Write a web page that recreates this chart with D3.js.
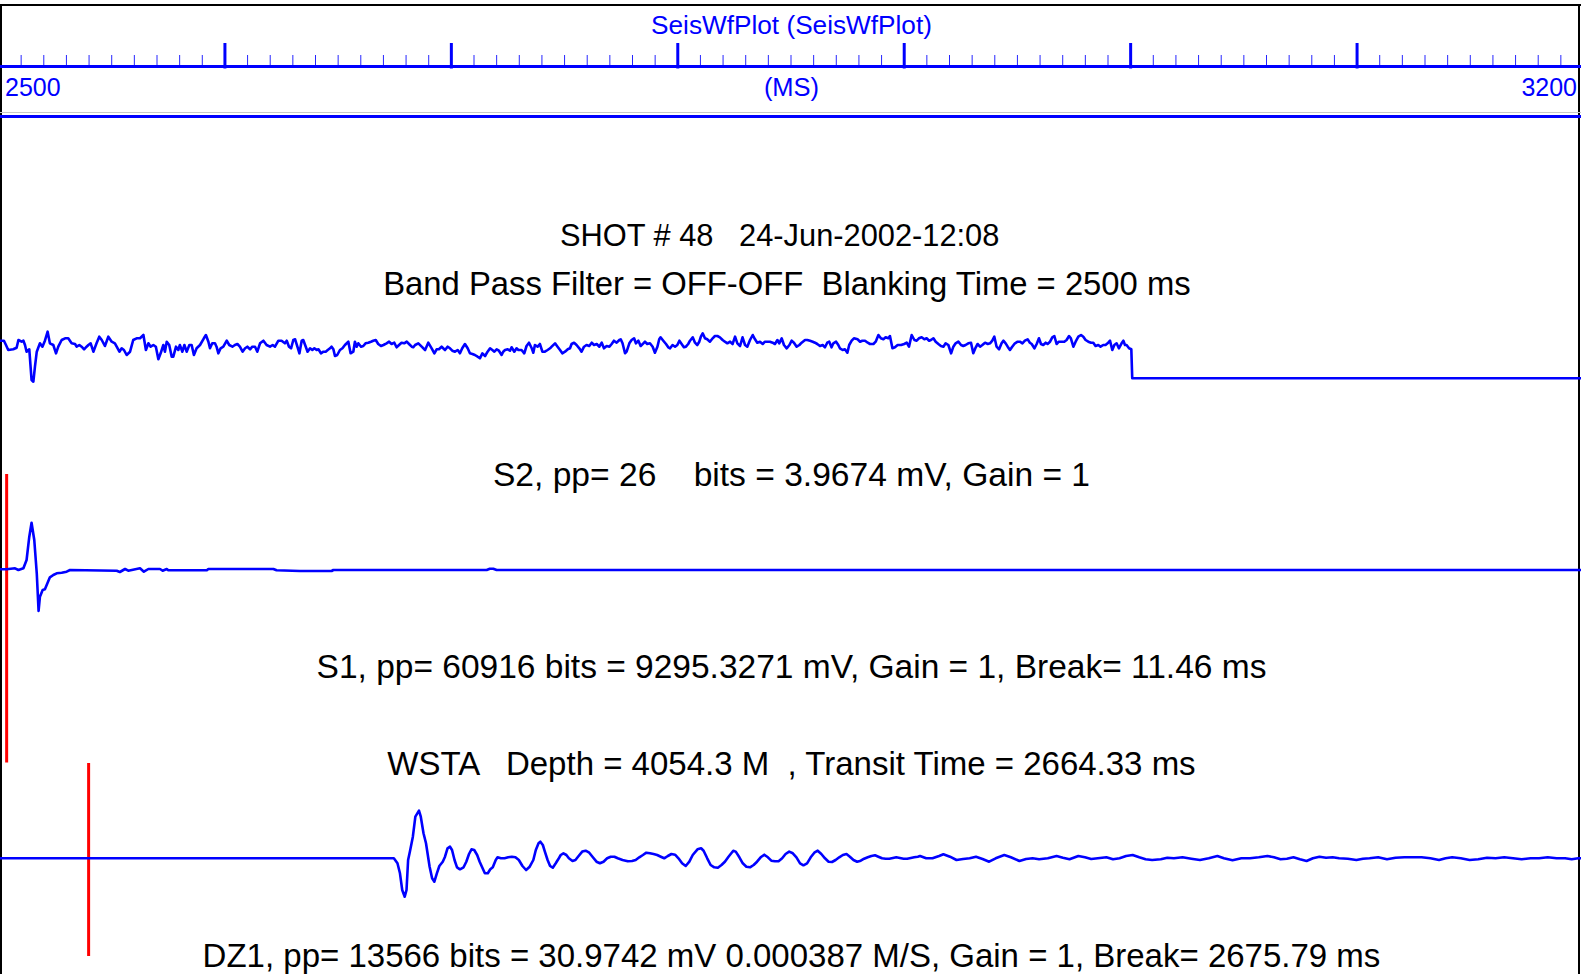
<!DOCTYPE html>
<html><head><meta charset="utf-8">
<script src="https://cdn.jsdelivr.net/npm/d3@7"></script>
<style>
html,body{margin:0;padding:0;background:#fff;overflow:hidden}
text{font-family:"Liberation Sans",Arial,Helvetica,sans-serif;white-space:pre}
</style></head><body>
<script>
// ---------- data ----------
const timeDomain = [2500, 3200];          // ms
const majorTickStep = 100, minorTickStep = 10;
const axisEndLabels = ["2500", "3200"];
const axisUnit = "(MS)";
const plotTitle = "SeisWfPlot (SeisWfPlot)";
const headerLines = ["SHOT # 48   24-Jun-2002-12:08   ", "Band Pass Filter = OFF-OFF  Blanking Time = 2500 ms "];
const traceLabels = [
  "S2, pp= 26    bits = 3.9674 mV, Gain = 1",
  "S1, pp= 60916 bits = 9295.3271 mV, Gain = 1, Break= 11.46 ms",
  "WSTA   Depth = 4054.3 M  , Transit Time = 2664.33 ms",
  "DZ1, pp= 13566 bits = 30.9742 mV 0.000387 M/S, Gain = 1, Break= 2675.79 ms"
];
// traces: [ms after 2500, amplitude]
const s2Trace = [[0,4.3],[0.7,4.3],[2.4,4.3],[3.3,0],[4.3,-5],[6.5,-4.3],[8,-2.7],[8.8,5],[10.2,3.3],[11,4.3],[11.7,0],[12.4,-6.7],[13.6,-4.3],[14.6,-35],[15.4,-36.7],[16.1,-21.7],[16.9,-6.7],[18.3,1.7],[19.4,-1.7],[20.5,4.3],[21.7,13.3],[22.7,1.7],[24.2,0],[25.4,-8.3],[26.4,-1.7],[27.9,5],[29.4,6.7],[30.8,6.7],[32.3,1.7],[33.8,1],[34.5,-1.7],[35.7,0],[36.7,-1.7],[37.8,-4.3],[38.9,-1.7],[39.7,0],[40.7,1.7],[41.9,-6.7],[43.3,1.7],[44.5,8.3],[45.6,5],[47,-1],[48.5,8.3],[50,3.3],[51.4,1.7],[52.2,-1.7],[53.4,-6.7],[54.4,-3.3],[55.4,-5],[56.6,-10],[58.1,-6.7],[59.5,5],[61,6.7],[62.5,6.7],[64,10],[65.1,-5],[66.2,1.7],[67.2,-1.7],[68.4,0],[69.5,-1.7],[70.6,-14.3],[71.6,-8.3],[72.8,0],[73.5,-6.7],[74.3,3.3],[75.4,0],[76.5,-11.7],[77.2,-11.7],[78.4,-1.7],[79.4,-5],[80.1,0],[81.2,-6.7],[82.1,0],[83.1,-6.7],[84.3,0],[85.3,0],[86.3,-10],[87.5,-3.3],[89,0],[90.7,6.7],[91.6,10],[92.7,3.3],[93.4,-3.3],[94.4,1.7],[95.6,1.7],[96.3,-1.7],[97.1,-8.3],[98.1,-3.3],[99.3,-1.7],[100.8,4.3],[101.9,0],[103.3,-1.7],[104.4,0],[105.5,1],[106.6,-1.7],[107.8,-6.7],[108.9,-3.3],[109.9,-1.7],[111.1,-4.3],[112.1,-1.7],[113.3,-1.7],[114.3,-6.7],[115.5,1.7],[117,4.3],[118.4,0],[119.9,-1.7],[121.1,0],[122.1,-1.7],[123.6,4.3],[125,4.3],[126.5,1.7],[127.3,4.3],[128.3,-1.7],[129.2,-3.3],[130.2,5],[131,5.7],[132,-1.7],[132.9,-8.3],[133.9,4.3],[134.6,5],[135.7,-1.7],[136.5,-6.7],[137.6,-3.3],[138.6,-5],[139.5,-3.3],[140.5,-5],[141.3,-4.3],[142.4,-8.3],[143.5,-6.7],[144.5,-6.7],[145.4,-5],[146.4,-3.3],[147.1,-1.7],[147.9,-4.3],[148.6,-11],[149.6,-10],[150.8,-5],[151.9,-3.3],[153,0],[154.5,3.3],[155.5,-8.3],[156.7,-6.7],[157.4,3.3],[158.2,-1.7],[158.9,1.7],[160.1,-1.7],[161.1,-1],[162.1,1.7],[163.3,2.3],[164.5,3.3],[165.5,4.3],[166.6,5],[167.7,1],[168.9,-1],[170,0],[171.4,1.7],[172.5,3.3],[173.6,1],[174.8,2.3],[175.8,-2.3],[176.9,0],[178,2.3],[179.2,1.7],[180.3,3.3],[181.3,1],[182.5,-1.7],[183.2,-2.3],[184,0],[185.4,1.7],[186.9,-1.7],[188.4,-5],[189.8,2.3],[191.3,-3.3],[192.5,-8.3],[193.5,-4.3],[194.5,-4.3],[195.7,-1.7],[197.2,-5],[198.4,-1.7],[199.4,-3.3],[200.4,-5.7],[201.6,-6.7],[202.8,-5],[203.8,-8.3],[204.8,-3.3],[206,1],[207.2,-3.3],[208.2,-8.3],[209.3,-9],[210.4,-10],[211.6,-11.7],[212.6,-13.3],[213.7,-8.3],[214.9,-11],[216,-6.7],[217.1,-3.3],[218.1,-5],[219,-6.7],[220,-4.3],[221,-5.7],[222.2,-10],[222.9,-6.7],[223.7,-5],[224.9,-4.3],[225.9,-5.7],[226.6,-2.3],[227.8,-6.7],[228.8,-3.3],[229.6,-5],[231,-5],[232.2,-8.3],[233.2,-1],[234.3,2.3],[235.5,-3.3],[236.2,-7.7],[236.9,0],[238.1,-1.7],[239.1,1],[240.2,-6.7],[241.3,-6.7],[242.5,-5],[243.6,-3.3],[244.3,-1.7],[245.8,1.7],[246.9,-1.7],[248,-5],[249,-8.3],[250.2,-6.7],[251.4,-4.3],[252.4,-3.3],[253.1,1],[254.2,2.3],[255.3,0],[256.5,-3.3],[257.5,-6.7],[258.6,-1.7],[259.7,0],[260.9,-1],[262,2.3],[263,0],[264.2,1],[265.3,-1.7],[266.4,2.3],[267.4,-3.3],[268.6,-1],[269.8,-1.7],[270.8,1],[271.8,4.3],[273,2.3],[274.2,5],[274.8,5.7],[275.6,1.7],[276.7,-8.3],[277.4,-6.7],[278.6,1.7],[279.6,5],[280.7,6.7],[281.5,1.7],[282.6,4.3],[283.6,-1],[284.8,1.7],[285.5,3.3],[286.5,1],[287.7,1.7],[288.9,-1.7],[289.9,-7.7],[291,-1.7],[291.8,5.7],[292.4,7.7],[293.6,4.3],[294.8,1],[295.8,-2.3],[296.6,-3.3],[297.7,0],[298.8,-1.7],[299.8,0],[300.7,4.3],[301.7,1],[302.7,-2.3],[303.6,-1.7],[304.6,1],[305.4,4.3],[306.6,7.7],[307.6,2.3],[308.6,0],[309.5,3.3],[310.2,8.3],[311,11.7],[312,6.7],[313,5.7],[314.2,3.3],[315.4,6.7],[316.4,9],[317.5,9],[318.6,7.7],[319.8,5],[320.8,3.3],[321.9,1.7],[323.1,3.3],[324.2,1],[325.3,8.3],[326.3,1.7],[327.5,-1],[328.6,7.7],[329.7,0],[330.7,-1.7],[331.9,5],[333.1,10],[334.1,5.7],[335.1,2.3],[336.3,3.3],[337.5,1],[338.5,3.3],[339.5,3.3],[340.7,3.3],[341.9,2.3],[342.9,1],[344,5],[344.8,1.7],[345.9,6.7],[346.9,0],[348.1,-3.3],[349.3,0],[350.3,4.3],[351.3,2.3],[352.5,-1.7],[353.7,0],[354.7,2.3],[356.2,5],[357.2,5],[358.4,4.3],[359.6,3.3],[360.6,2.3],[361.6,1],[362.8,-1],[364,0],[365,-2.3],[366,2.3],[366.9,3.3],[367.9,-2.3],[368.7,1.7],[369.9,3.3],[370.9,0],[371.6,-3.3],[372.8,-5],[373.8,-4.3],[374.9,-7.7],[375.7,0],[376.8,4.3],[377.8,6.7],[379.4,5.7],[380.5,3.3],[381.5,4.3],[382.7,4.3],[383.9,2.3],[384.9,1],[386.4,1],[387.4,3.3],[388.6,10],[389.7,6.7],[390.8,5.7],[391.8,7.7],[393,6.7],[393.7,9],[394.8,-3.3],[395.9,-2.3],[397.1,0],[398.6,0],[400,1],[401.1,2.3],[402.1,-1.7],[403.3,10],[404.5,5],[405.5,4.3],[406.5,6.7],[407.7,7.7],[408.9,5.7],[409.9,6.7],[411,4.3],[411.8,5],[412.9,6.7],[413.9,3.3],[415.1,1],[416.2,-1],[417.3,-1.7],[418.3,1.7],[419.5,0],[420.7,-8.3],[421.7,-1.7],[422.7,1.7],[423.9,3.3],[425.1,0],[426.1,-1],[427.1,0],[428.3,1.7],[429.5,2.3],[430.5,-8.3],[431.6,-2.3],[432.4,1],[433.5,-1.7],[434.5,0],[435.7,2.3],[436.9,1],[437.9,1.7],[438.9,4.3],[439.8,8.3],[440.8,-1.7],[441.9,-4.3],[443,1.7],[443.8,4.3],[444.8,1.7],[445.7,-1.7],[446.7,-5],[447.7,-1.7],[448.9,1.7],[450.1,3.3],[451.1,3.3],[452.2,1.7],[453.3,4.3],[454.5,5.7],[455.5,2.3],[456.3,1],[457.5,-3.3],[458.5,1],[459.5,6.7],[460.4,1],[461.4,0],[462.5,2.3],[463.3,1],[464.4,3.3],[465.4,7.7],[466.3,9],[467.3,1],[468.3,3.3],[469.5,3.3],[470.7,3.3],[471.7,5],[472.8,9],[473.6,6.7],[474.7,-1.7],[475.7,3.3],[476.9,8.3],[478.1,10],[479.1,8.3],[480.1,5],[481.3,3.3],[482.5,2.3],[483.5,2.3],[484.5,-1],[485.7,0],[486.7,-1.7],[487.9,0],[488.9,0],[490.1,2.3],[490.9,4.3],[491.9,-5],[492.8,0],[493.8,1.7],[494.8,-3.3],[496,1.7],[496.8,4.3],[497.5,0],[498.2,0],[499.3,-3.3],[500.3,-4.3],[500.7,-33.3],[700,-33.3]];
const s1Trace = [[0,0.7],[3.6,0.7],[7.3,1.7],[8.8,0],[11,1.7],[12.4,10],[13.6,33.3],[14.6,47.3],[15.8,30],[16.9,-3.3],[17.7,-41],[18.3,-26.7],[19.5,-20],[20.5,-19.3],[21.6,-13.3],[22.7,-7.3],[24.2,-5],[25.7,-3.3],[27.9,-2.7],[30.1,-1.7],[31.6,0],[52.2,-0.7],[53.6,-2],[55.9,1],[57.3,-0.7],[62.5,1.7],[64.2,-1.7],[66.2,1],[71.3,1],[72.5,-0.7],[74.3,1],[75,-0.3],[92,-0.3],[92.7,1],[121.4,1],[122.8,-0.3],[133.1,-1],[147.1,-1],[147.9,0],[215.6,0],[217,1.3],[218.5,1.3],[220,0],[700,0]];
const dz1Trace = [[0,0],[174.6,0],[176.2,-5],[177.3,-15],[178.3,-31.7],[179.4,-38.4],[180.2,-31.7],[180.9,-1.7],[181.7,6.7],[183,21.6],[184.1,41.6],[185.7,47.6],[186.5,41.6],[187.7,25],[188.8,15],[190.4,-8.4],[191.5,-20],[192.5,-23.4],[193.6,-15],[194.7,-7.7],[196.2,-3.4],[197.2,1.6],[198.3,10],[199.4,11.6],[200.3,8.3],[201.4,-1.7],[202.5,-9],[203.8,-11],[205.4,-9],[206.6,-3.4],[207.8,4.3],[208.9,9],[210.1,8.3],[211.4,3.3],[212.5,-3.4],[213.6,-9],[214.8,-15],[216.1,-15],[217.2,-11],[218.3,-9],[219.6,-1.7],[220.4,1],[221.9,0],[223.5,0],[225.1,1],[226.7,1.6],[228.3,1],[229.8,-1.7],[231.4,-7.7],[233,-11.7],[234.6,-8.4],[236.2,-1.7],[237.3,8.3],[238.5,15],[239.3,16.6],[240.4,13.3],[241.3,6.7],[242.5,-1.7],[243.6,-7.7],[244.8,-9.4],[246.1,-5],[247.2,-1],[248.3,3.3],[249.5,5],[250.8,3.3],[251.9,0],[253.5,-2.7],[254.8,-1.7],[256.2,2.3],[257.8,6.7],[259.3,7.6],[260.9,5.6],[262.5,1],[264.1,-3.4],[265.6,-5],[267.2,-3.4],[268.8,0],[270.4,1.6],[272,1.6],[273.5,0],[275.6,-1.7],[277.9,-3],[279.8,-2.7],[281.4,-1.7],[283,1],[284.6,3.3],[286.1,5.6],[287.7,5],[289.3,4.3],[290.9,3.3],[292.5,1.6],[294,0],[295.6,2.3],[297.2,4.3],[298.8,3.6],[300.3,0],[301.9,-5],[303.5,-7.7],[305.1,-3.4],[306.6,3.3],[308.7,9],[310.3,10],[311.4,7.6],[313,0],[314.5,-6.7],[316.1,-9],[317.7,-9.4],[319.3,-6.7],[320.8,-3.4],[322.4,1.6],[324.5,7.6],[325.6,6.7],[327.2,1],[328.7,-5],[330.3,-8.4],[331.9,-9],[333.5,-6.7],[335,-3.4],[336.6,1],[338.2,3.6],[339.8,1],[341.3,-2.4],[342.9,-3],[344.5,-3],[346.1,0],[347.6,4.3],[349.2,6.7],[350.8,5],[352.4,1],[354,-5],[355.5,-7],[357.1,-5],[358.7,1],[360.3,5.6],[361.8,7.6],[363.4,4.3],[365,0],[366.6,-3.4],[368.1,-3.7],[369.7,-1.7],[371.3,1],[372.9,3.3],[374.5,4.3],[376,1.6],[377.6,-1.7],[379.2,-3.4],[380.8,-2.4],[382.3,-0.4],[383.9,1],[385.5,2.3],[387.1,3],[388.6,1.6],[390.2,0],[391.8,-0.4],[393.4,-0.4],[395,0.3],[396.5,1],[398.1,0.3],[399.7,-0.4],[401.3,-0.4],[402.9,0.3],[404.4,1],[406,1.6],[407,2.3],[409.7,0],[412.5,0],[415.4,2.3],[417.3,4],[420.2,1.6],[423.1,-1.7],[426,-0.7],[428.9,0],[431.7,1.6],[434.6,-0.7],[437.5,-3.4],[440.4,0],[444.2,3.3],[447.1,1],[450.9,-2.7],[453.8,-0.7],[456.7,0],[459.6,-1],[463.4,0],[467.3,2.3],[470.1,0.6],[473,-1],[476.9,2.3],[479.8,1],[482.6,-0.7],[485.5,0],[489.3,1],[492.2,-1],[495.1,0],[498,2.3],[500.9,3.3],[503.8,1],[506.6,-1],[509.5,-1.7],[513.3,-1],[516.2,0.6],[519.1,0],[522.9,1],[526.8,-0.4],[530.6,-1.7],[534.5,0],[538.3,2.3],[541.2,0],[545,-2],[548.9,0],[552.7,0],[556.6,1],[560.4,2.3],[563.3,1],[566.2,-1],[569,-0.4],[571.9,1],[574.8,-1],[577.7,-2.7],[580.5,0],[583.4,1.6],[586.3,0.6],[589.2,1],[592.1,0],[595.9,-0.4],[599.7,-1.7],[602.6,-0.4],[605.5,0],[609.3,1],[613.2,-1],[617,0.6],[620.9,1],[624.7,1],[628.5,1],[632.4,0],[636.2,-1.7],[639.1,0],[642,1],[645.8,0],[649.7,-1.7],[653.5,-1],[657.4,0.6],[661.2,0],[665,1],[668.9,0],[672.7,-1],[676.6,0],[680.4,0],[684.2,1],[688.1,0],[691.9,0],[694.8,-1],[697.7,0],[700,0]];
// break markers (ms after 2500)
const s1MarkerTime = 3.6;
const dz1MarkerTime = 39.8;

// ---------- layout ----------
const W = 1581, H = 974;
const blue = "#0000ff", red = "#ff0000";
const svg = d3.select("body").append("svg").attr("width", W).attr("height", H);
svg.append("rect").attr("width", W).attr("height", H).attr("fill", "#fff");

const x = d3.scaleLinear().domain(timeDomain).range([-1.5, 1583.5]);
const T0 = timeDomain[0];

// frame
svg.append("line").attr("x1",0).attr("x2",W).attr("y1",5).attr("y2",5).attr("stroke","#000").attr("stroke-width",2);
svg.append("line").attr("x1",1).attr("x2",1).attr("y1",4).attr("y2",H).attr("stroke","#000").attr("stroke-width",2);
svg.append("line").attr("x1",W-2).attr("x2",W-2).attr("y1",4).attr("y2",H).attr("stroke","#000").attr("stroke-width",2);

// title
svg.append("text").attr("x", W/2 + 1).attr("y", 33.5).attr("text-anchor","middle")
  .attr("font-size", 26.2).attr("fill", blue).text(plotTitle);

// time axis
const axisY = 66.5;
const minor = d3.range(timeDomain[0], timeDomain[1] + 1, minorTickStep).filter(t => t % majorTickStep !== 0);
const major = d3.range(timeDomain[0], timeDomain[1] + 1, majorTickStep);
svg.append("g").selectAll("line").data(minor).join("line")
  .attr("x1", d => x(d)).attr("x2", d => x(d)).attr("y1", 55).attr("y2", axisY)
  .attr("stroke", blue).attr("stroke-width", 1).attr("opacity", 0.85);
svg.append("g").selectAll("line").data(major).join("line")
  .attr("x1", d => x(d)).attr("x2", d => x(d)).attr("y1", 43).attr("y2", 68.5)
  .attr("stroke", blue).attr("stroke-width", 3);
svg.append("line").attr("x1",0).attr("x2",W).attr("y1",axisY).attr("y2",axisY).attr("stroke",blue).attr("stroke-width",3);

svg.append("text").attr("x", 5).attr("y", 95.5).attr("font-size", 25).attr("fill", blue).text(axisEndLabels[0]);
svg.append("text").attr("x", W-4).attr("y", 95.5).attr("text-anchor","end").attr("font-size", 25).attr("fill", blue).text(axisEndLabels[1]);
svg.append("text").attr("x", W/2 + 1).attr("y", 95.5).attr("text-anchor","middle").attr("font-size", 25.5).attr("fill", blue).text(axisUnit);

svg.append("line").attr("x1",0).attr("x2",W).attr("y1",112.5).attr("y2",112.5).attr("stroke","#c8c8c8").attr("stroke-width",1);
svg.append("line").attr("x1",0).attr("x2",W).attr("y1",116.5).attr("y2",116.5).attr("stroke",blue).attr("stroke-width",3);

// header lines
svg.append("text").attr("x", W/2 + 2).attr("y", 246).attr("text-anchor","middle").attr("font-size", 30.8).attr("fill","#000").text(headerLines[0]);
svg.append("text").attr("x", W/2 + 1).attr("y", 294.5).attr("text-anchor","middle").attr("font-size", 32.8).attr("fill","#000").text(headerLines[1]);

// traces
const tracks = [
  {data: s2Trace,  zeroY: 345,   label: traceLabels[0], labelY: 485.5, fs: 33.6},
  {data: s1Trace,  zeroY: 570,   label: traceLabels[1], labelY: 677.5, fs: 33.5},
  {data: dz1Trace, zeroY: 858.3, label: traceLabels[3], labelY: 967,   fs: 33}
];
tracks.forEach(tr => {
  tr.y = d3.scaleLinear().domain([-50, 50]).range([tr.zeroY + 50, tr.zeroY - 50]);
});

// red break markers
const markers = [
  {t: s1MarkerTime, y0: 474, y1: 762.5},
  {t: dz1MarkerTime, y0: 763, y1: 956}
];
svg.append("g").selectAll("line").data(markers).join("line")
  .attr("x1", d => x(T0 + d.t)).attr("x2", d => x(T0 + d.t))
  .attr("y1", d => d.y0).attr("y2", d => d.y1)
  .attr("stroke", red).attr("stroke-width", 3);

tracks.forEach(tr => {
  const line = d3.line().x(d => x(T0 + d[0])).y(d => tr.y(d[1]));
  svg.append("path").datum(tr.data).attr("d", line)
    .attr("fill","none").attr("stroke", blue).attr("stroke-width", 2.6).attr("stroke-linejoin","round");
  svg.append("text").attr("x", W/2 + 1).attr("y", tr.labelY).attr("text-anchor","middle")
    .attr("font-size", tr.fs).attr("fill","#000").text(tr.label);
});
svg.append("text").attr("x", W/2 + 1).attr("y", 774.5).attr("text-anchor","middle")
  .attr("font-size", 33).attr("fill","#000").text(traceLabels[2]);
</script>
</body></html>
